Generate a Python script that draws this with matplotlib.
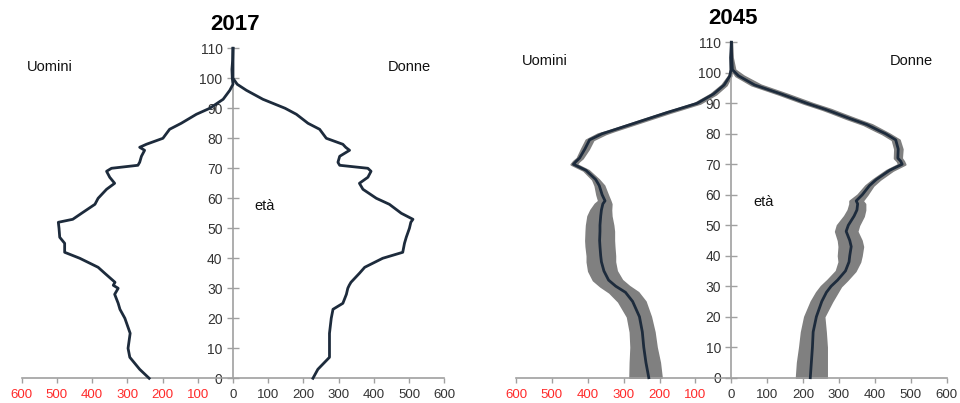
import numpy as np
import matplotlib
matplotlib.use("Agg")
import matplotlib.pyplot as plt
from matplotlib.ticker import FixedLocator

plt.rcParams['font.family'] = ['Liberation Sans', 'DejaVu Sans']

# ===== 2017 =====
ages_2017 = [0, 3, 7, 10, 15, 20, 23, 25, 28, 30, 31, 32, 35, 37, 40, 42, 45, 47, 50, 52, 53,
             55, 58, 60, 63, 65, 67, 69, 70, 71, 72, 74, 76, 77, 78, 80, 83, 85, 88, 90, 93,
             96, 98, 100, 103, 106, 110]
uomini_2017 = [238, 265, 293, 298, 292, 307, 321, 326, 336, 326, 340, 335, 364, 383, 435, 478,
               478, 492, 494, 496, 455, 430, 392, 383, 359, 336, 350, 359, 345, 270, 265, 260,
               251, 265, 246, 199, 180, 147, 104, 66, 28, 9, 0, 2, 3, 1, 0]
donne_2017 = [227, 241, 274, 274, 274, 279, 284, 312, 322, 326, 330, 335, 359, 374, 425, 482,
              487, 492, 501, 505, 511, 478, 444, 407, 369, 359, 383, 392, 383, 303, 298, 303,
              331, 320, 312, 265, 246, 213, 180, 148, 85, 38, 12, 0, 0, 0, 0]

# ===== 2045 (linea centrale + banda) =====
ages_2045 = [0, 5, 10, 15, 20, 25, 28, 30, 32, 35, 38, 40, 43, 45, 48, 50, 53, 55, 57, 58, 60,
             63, 65, 68, 70, 71, 72, 75, 78, 80, 81, 83, 85, 87, 88, 90, 93, 96, 99, 101, 105, 110]
uomini_2045 = [230, 238, 244, 248, 256, 275, 295, 322, 342, 355, 362, 364, 366, 367, 366, 366,
               364, 362, 358, 352, 360, 368, 378, 405, 440, 432, 423, 408, 395, 360, 334, 282,
               230, 178, 150, 95, 50, 20, 4, 1, 2, 0]
uomini_2045_lo = [195, 200, 209, 215, 225, 240, 260, 285, 305, 320, 325, 325, 327, 328, 328, 330,
                  335, 336, 335, 338, 345, 355, 370, 398, 432, 425, 415, 398, 385, 350, 326, 274,
                  222, 170, 142, 87, 43, 14, 1, 0, 0, 0]
uomini_2045_hi = [283, 282, 280, 282, 290, 315, 340, 365, 385, 398, 402, 402, 405, 406, 405, 404,
                  400, 392, 380, 370, 375, 380, 387, 412, 447, 440, 430, 418, 405, 372, 342, 290,
                  238, 186, 158, 103, 58, 27, 8, 3, 3, 1]
donne_2045 = [220, 223, 226, 228, 237, 252, 265, 278, 296, 318, 328, 330, 334, 330, 320, 326,
              342, 350, 352, 348, 365, 385, 404, 441, 476, 472, 464, 465, 458, 430, 412, 378,
              330, 285, 262, 210, 140, 65, 20, 3, 1, 0]
donne_2045_lo = [181, 184, 190, 195, 204, 222, 237, 250, 268, 292, 300, 298, 300, 298, 290, 295,
                 315, 325, 330, 330, 352, 374, 395, 432, 466, 462, 454, 455, 448, 420, 402, 368,
                 320, 276, 253, 201, 131, 56, 12, 0, 0, 0]
donne_2045_hi = [265, 265, 265, 262, 258, 280, 295, 305, 322, 345, 358, 362, 366, 362, 350, 355,
                 368, 372, 372, 365, 378, 395, 414, 450, 484, 480, 474, 476, 468, 440, 424, 392,
                 345, 300, 278, 226, 156, 82, 34, 10, 3, 1]

x_ticks = [-600, -500, -400, -300, -200, -100, 0, 100, 200, 300, 400, 500, 600]
y_ticks = [0, 10, 20, 30, 40, 50, 60, 70, 80, 90, 100, 110]

LINE = '#1d2b3c'
BAND = '#808080'
AXIS = '#a0a0a0'
TXT = '#333333'


def setup_axes(ax):
    ax.set_xlim(-600, 600)
    ax.set_ylim(0, 110)
    for s in ['top', 'right']:
        ax.spines[s].set_visible(False)
    ax.spines['left'].set_position(('data', 0))
    ax.spines['left'].set_color(AXIS)
    ax.spines['bottom'].set_color(AXIS)
    ax.spines['left'].set_linewidth(1.2)
    ax.spines['bottom'].set_linewidth(1.2)
    ax.xaxis.set_major_locator(FixedLocator(x_ticks))
    ax.set_xticklabels([str(abs(v)) for v in x_ticks])
    for v, lab in zip(x_ticks, ax.get_xticklabels()):
        lab.set_color('#ff2a2a' if v < 0 else TXT)
    ax.yaxis.set_major_locator(FixedLocator(y_ticks))
    ax.tick_params(axis='y', direction='inout', length=9, width=1, color=AXIS,
                   labelsize=10, labelcolor=TXT, pad=3)
    ax.tick_params(axis='x', direction='out', length=3.5, width=1, color=AXIS,
                   labelsize=9.5, pad=4.5)
    ax.patch.set_visible(False)


fig = plt.figure(figsize=(9.6, 4.03), dpi=100)

ax1 = fig.add_axes([0.0226, 0.0613, 0.4402, 0.8189])
setup_axes(ax1)
ax1.plot([-v for v in uomini_2017], ages_2017, color=LINE, lw=2, clip_on=False, zorder=3)
ax1.plot(donne_2017, ages_2017, color=LINE, lw=2, clip_on=False, zorder=3)
ax1.text(-520, 103.8, 'Uomini', ha='center', va='center', fontsize=10.5, color='#111111')
ax1.text(502, 103.8, 'Donne', ha='center', va='center', fontsize=10.5, color='#111111')
ax1.text(90, 57.4, 'età', ha='center', va='center', fontsize=10.5, color='#111111')

ax2 = fig.add_axes([0.5375, 0.0628, 0.4486, 0.8323])
setup_axes(ax2)
ax2.fill_betweenx(ages_2045, [-v for v in uomini_2045_lo], [-v for v in uomini_2045_hi],
                  color=BAND, lw=1.5, edgecolor=BAND, zorder=2)
ax2.fill_betweenx(ages_2045, donne_2045_lo, donne_2045_hi,
                  color=BAND, lw=1.5, edgecolor=BAND, zorder=2)
ax2.plot([-v for v in uomini_2045], ages_2045, color=LINE, lw=2, clip_on=False, zorder=3)
ax2.plot(donne_2045, ages_2045, color=LINE, lw=2, clip_on=False, zorder=3)
ax2.text(-520, 103.8, 'Uomini', ha='center', va='center', fontsize=10.5, color='#111111')
ax2.text(502, 103.8, 'Donne', ha='center', va='center', fontsize=10.5, color='#111111')
ax2.text(90, 57.6, 'età', ha='center', va='center', fontsize=10.5, color='#111111')

fig.text(0.2453, 0.9404, '2017', ha='center', va='center', fontsize=16, fontweight='bold')
fig.text(0.7635, 0.955, '2045', ha='center', va='center', fontsize=16, fontweight='bold')

fig.savefig('out.png', dpi=100)
